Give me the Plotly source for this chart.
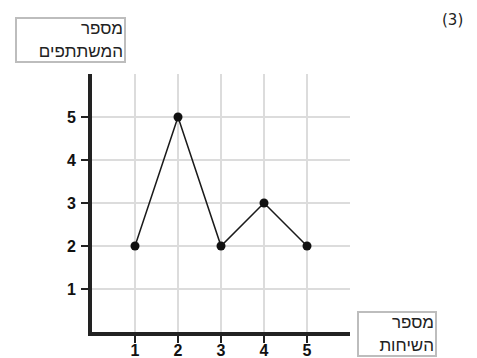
import plotly.graph_objects as go

# number of conversations vs number of participants
conversations = [1, 2, 3, 4, 5]
participants = [2, 5, 2, 3, 2]
tick_vals = [1, 2, 3, 4, 5]

W, H = 477, 358
L, R, T, B = 92, 127, 74, 26
PW, PH = W - L - R, H - T - B


def px(x):
    return (x - L) / PW


def py(y):
    return (H - B - y) / PH


fig = go.Figure(
    go.Scatter(
        x=conversations,
        y=participants,
        mode="lines+markers",
        line=dict(color="#1a1a1a", width=1.5),
        marker=dict(color="#111", size=9),
        cliponaxis=False,
    )
)

axis_common = dict(
    range=[0, 6],
    tickmode="array",
    tickvals=tick_vals,
    showgrid=True,
    gridcolor="#dcdcdc",
    gridwidth=1.5,
    zeroline=False,
    showline=True,
    linecolor="#222",
    linewidth=4,
    ticks="outside",
    ticklen=7,
    tickwidth=2,
    tickcolor="#222",
    tickfont=dict(family="Liberation Sans, Arial", size=16, color="#111", weight="bold"),
    minor=dict(tickmode="linear", tick0=0, dtick=1, showgrid=True,
               gridcolor="#dcdcdc", gridwidth=1.5, ticklen=0),
    automargin=False,
    fixedrange=True,
)

fig.update_xaxes(**axis_common, ticklabelstandoff=-6)
fig.update_yaxes(**axis_common, ticklabelstandoff=2)

box_font = dict(family="Liberation Sans, DejaVu Sans, Arial", size=17, color="#222")

fig.add_annotation(
    text="מספר<br>המשתתפים",
    xref="paper", yref="paper",
    x=px(126), y=py(17), xanchor="right", yanchor="top",
    width=105, height=40, align="right", valign="middle",
    bordercolor="#bdbdbd", borderwidth=2, borderpad=1,
    showarrow=False, font=box_font,
)
fig.add_annotation(
    text="מספר<br>השיחות",
    xref="paper", yref="paper",
    x=px(437), y=py(311), xanchor="right", yanchor="top",
    width=74, height=40, align="right", valign="middle",
    bordercolor="#bdbdbd", borderwidth=2, borderpad=1,
    showarrow=False, font=box_font,
)
fig.add_annotation(
    text="(3)",
    xref="paper", yref="paper",
    x=px(440), y=py(9), xanchor="left", yanchor="top",
    showarrow=False,
    font=dict(family="DejaVu Sans, Liberation Sans", size=15, color="#222"),
)

fig.update_layout(
    width=W, height=H,
    margin=dict(l=L, r=R, t=T, b=B),
    paper_bgcolor="white",
    plot_bgcolor="white",
    showlegend=False,
)

fig.write_html(
    "out.html",
    config={"displayModeBar": False},
    post_script="document.body.style.margin='0';",
)
